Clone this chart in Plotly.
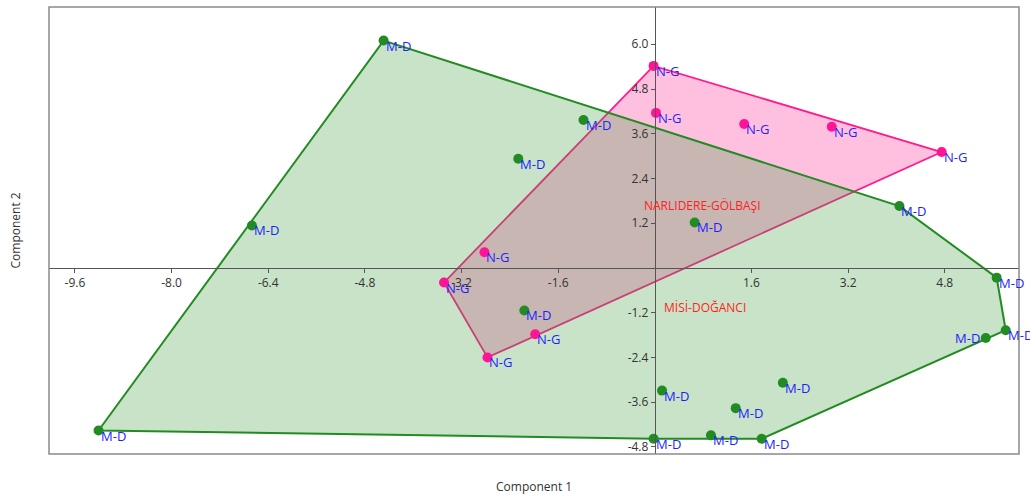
import plotly.graph_objects as go

# Component scores for the two site groups
md_x = [-4.49, -6.67, -2.26, -1.18, 4.05, 0.66, 5.66, 5.81, 5.48, 2.12, 0.12, 1.34, 0.93, -0.02, 1.77, -9.21, -2.16]
md_y = [6.10, 1.14, 2.93, 3.97, 1.66, 1.22, -0.26, -1.67, -1.88, -3.08, -3.29, -3.76, -4.49, -4.58, -4.58, -4.36, -1.14]
md_label_side = ["right"] * 8 + ["left"] + ["right"] * 8

ng_x = [-0.02, 0.02, 1.48, 2.93, 4.75, -3.49, -2.82, -2.77, -1.98]
ng_y = [5.42, 4.16, 3.86, 3.79, 3.11, -0.39, 0.42, -2.40, -1.78]
ng_label_side = ["right"] * 9

md_name, ng_name = "M-D", "N-G"
md_group, ng_group = "MİSİ-DOĞANCI", "NARLIDERE-GÖLBAŞI"

x_ticks = [-9.6, -8.0, -6.4, -4.8, -3.2, -1.6, 1.6, 3.2, 4.8]
y_ticks = [-4.8, -3.6, -2.4, -1.2, 1.2, 2.4, 3.6, 4.8, 6.0]

X_RANGE = [-10.03, 6.03]
Y_RANGE = [-4.99, 7.0]


def convex_hull(xs, ys):
    pts = sorted(set(zip(xs, ys)))

    def cross(o, a, b):
        return (a[0] - o[0]) * (b[1] - o[1]) - (a[1] - o[1]) * (b[0] - o[0])

    lower, upper = [], []
    for p in pts:
        while len(lower) >= 2 and cross(lower[-2], lower[-1], p) <= 0:
            lower.pop()
        lower.append(p)
    for p in reversed(pts):
        while len(upper) >= 2 and cross(upper[-2], upper[-1], p) <= 0:
            upper.pop()
        upper.append(p)
    hull = lower[:-1] + upper[:-1]
    hull.append(hull[0])
    return [p[0] for p in hull], [p[1] for p in hull]


fig = go.Figure()

hx, hy = convex_hull(ng_x, ng_y)
fig.add_trace(go.Scatter(x=hx, y=hy, mode="lines", fill="toself",
                         fillcolor="rgba(255,105,180,0.42)",
                         line=dict(color="#ff1a8c", width=1.8),
                         hoverinfo="skip", showlegend=False))

hx, hy = convex_hull(md_x, md_y)
fig.add_trace(go.Scatter(x=hx, y=hy, mode="lines", fill="toself",
                         fillcolor="rgba(67,157,67,0.29)",
                         line=dict(color="#228b22", width=2),
                         hoverinfo="skip", showlegend=False))

fig.add_trace(go.Scatter(x=md_x, y=md_y, mode="markers",
                         marker=dict(color="#228b22", size=10),
                         name=md_name, showlegend=False))
fig.add_trace(go.Scatter(x=ng_x, y=ng_y, mode="markers",
                         marker=dict(color="#ff1493", size=10),
                         name=ng_name, showlegend=False))

annotations = []
label_font = dict(family="Open Sans", size=13, color="rgb(30,30,255)")
for xs, ys, sides, name in [(md_x, md_y, md_label_side, md_name),
                            (ng_x, ng_y, ng_label_side, ng_name)]:
    for x, y, side in zip(xs, ys, sides):
        if side == "right":
            annotations.append(dict(x=x, y=y, text=name, showarrow=False,
                                    xanchor="left", yanchor="top",
                                    xshift=0, yshift=6, font=label_font))
        else:
            annotations.append(dict(x=x, y=y, text=name, showarrow=False,
                                    xanchor="right", yanchor="middle",
                                    xshift=-4, yshift=0, font=label_font))

# Group names placed at each group's centroid
group_font = dict(family="Open Sans", size=12, color="rgb(255,30,30)")
for xs, ys, title in [(md_x, md_y, md_group), (ng_x, ng_y, ng_group)]:
    cx = sum(xs) / len(xs)
    cy = sum(ys) / len(ys)
    annotations.append(dict(x=cx, y=cy, text=title, showarrow=False,
                            xanchor="left", yanchor="top",
                            xshift=0, yshift=6, font=group_font))

title_font = dict(family="Open Sans", size=12, color="#333333")
annotations.append(dict(xref="paper", yref="paper", x=0.5, y=0, text="Component 1",
                        showarrow=False, xanchor="center", yanchor="middle",
                        yshift=-32, font=title_font))
annotations.append(dict(xref="paper", yref="paper", x=0, y=0.5, text="Component 2",
                        showarrow=False, xanchor="center", yanchor="middle",
                        xshift=-34, textangle=-90, font=title_font))

x_zero_pos = (0 - Y_RANGE[0]) / (Y_RANGE[1] - Y_RANGE[0])
y_zero_pos = (0 - X_RANGE[0]) / (X_RANGE[1] - X_RANGE[0])

tick_font = dict(family="Open Sans", size=12, color="#333333")
fig.update_layout(
    width=1030, height=494,
    margin=dict(l=49, r=11, t=7, b=40),
    plot_bgcolor="white", paper_bgcolor="white",
    xaxis=dict(range=X_RANGE, showgrid=False, zeroline=False,
               showline=True, linecolor="#555555", linewidth=1,
               anchor="free", position=x_zero_pos,
               ticks="outside", ticklen=4, tickcolor="#555555",
               tickvals=x_ticks, ticktext=[f"{v:.1f}" for v in x_ticks],
               tickfont=tick_font),
    yaxis=dict(range=Y_RANGE, showgrid=False, zeroline=False,
               showline=True, linecolor="#555555", linewidth=1,
               anchor="free", position=y_zero_pos,
               ticks="outside", ticklen=4, tickcolor="#555555",
               tickvals=y_ticks, ticktext=[f"{v:.1f}" for v in y_ticks],
               tickfont=tick_font),
    shapes=[dict(type="rect", xref="paper", yref="paper", x0=0, x1=1, y0=0, y1=1,
                 line=dict(color="#8a8a8a", width=1.5), layer="above")],
    annotations=annotations,
    showlegend=False,
)

fig.write_html("out.html")
